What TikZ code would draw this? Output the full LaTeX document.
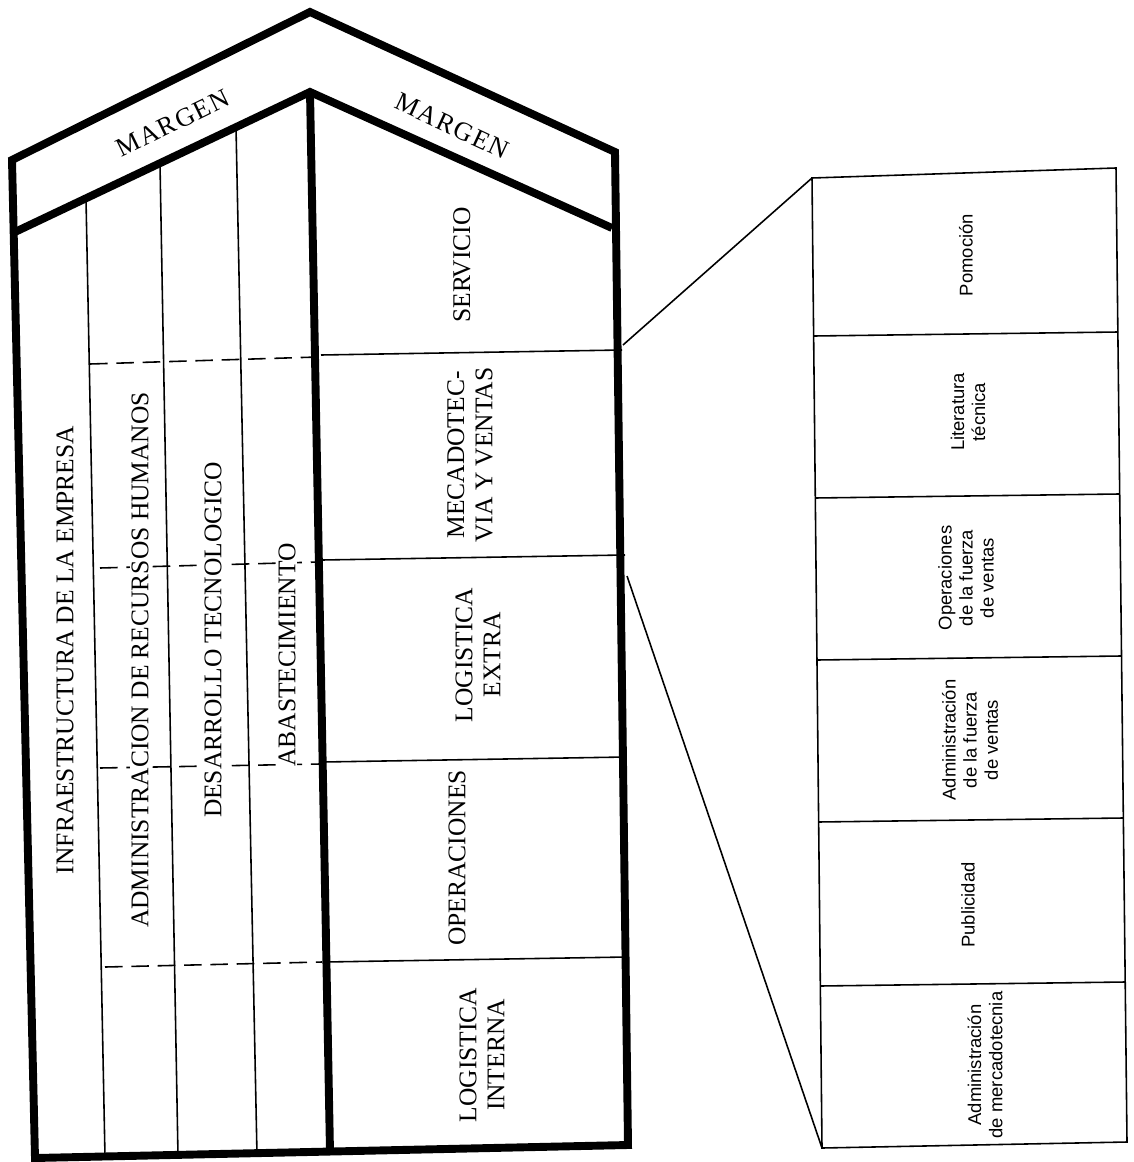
\documentclass[tikz,border=0pt]{standalone}
\usepackage{fontspec}
\setmainfont{Liberation Serif}
\newfontfamily\panelfont{Liberation Sans}
\newfontfamily\roofont[LetterSpace=6]{Liberation Serif}
\tikzset{
	wall/.style={line width=4.5pt, line join=miter},
	partline/.style={line width=.9pt},
	cutline/.style={line width=.9pt, dash pattern=on 10pt off 5pt},
	bigtxt/.style={rotate=90, align=center, font=\fontsize{14.5}{16}\selectfont},
	supporttxt/.style={bigtxt, fill=white, inner sep=1pt},
	roottxt/.style={font=\roofont\fontsize{15}{17}\selectfont},
	smalltxt/.style={rotate=90, align=center, font=\panelfont\fontsize{10.5}{12}\selectfont},
}
\begin{document}
\begin{tikzpicture}[x=.02cm,y=-.02cm]
		\useasboundingbox (0,0) rectangle (1133,1162);
		
		% casa exterior y techo
		\coordinate (oL) at (12,160); \coordinate (oT) at (310,12); \coordinate (oR) at (615,152);
		\coordinate (bL) at (35,1158); \coordinate (bR) at (628,1145);
		\coordinate (iL) at (15,232); \coordinate (iT) at (310,92); \coordinate (iR) at (612,228);
		\coordinate (cB) at (330,1152);
		\draw [wall] (bL) -- (oL) -- (oT) -- (oR) -- (bR) -- cycle;
		\draw [wall] (iL) -- (iT) -- (iR);
		\draw [wall] (iT) -- (cB);
		\node [roottxt, rotate=26] (margenA) at (173,123) {MARGEN};
		\node [roottxt, rotate=-25] (margenB) at (452,126) {MARGEN};
		
		% actividades de apoyo
		\draw [partline] (86,199) -- (105,1157);
		\draw [partline] (160,164) -- (178,1156);
		\draw [partline] (236,127) -- (257,1155);
		\draw [cutline] (90,364) -- (318,357);
		\draw [cutline] (100,568) -- (319,562);
		\draw [cutline] (100,768) -- (320,764);
		\draw [cutline] (105,967) -- (322,962);
		\node [supporttxt] (infra) at (65,650) {INFRAESTRUCTURA DE LA EMPRESA};
		\node [supporttxt] (rrhh) at (140,660) {ADMINISTRACION DE RECURSOS HUMANOS};
		\node [supporttxt] (tecno) at (213,640) {DESARROLLO TECNOLOGICO};
		\node [supporttxt] (abast) at (287,655) {ABASTECIMIENTO};
		
		% actividades primarias
		\draw [partline] (321,355) -- (622,350);
		\draw [partline] (322,560) -- (625,555);
		\draw [partline] (323,762) -- (626,757);
		\draw [partline] (325,962) -- (627,957);
		\node [bigtxt] (serv) at (462,265) {SERVICIO};
		\node [bigtxt] (merc) at (470,455) {MECADOTEC-\\VIA Y VENTAS};
		\node [bigtxt] (logext) at (478,655) {LOGISTICA\\EXTRA};
		\node [bigtxt] (oper) at (457,858) {OPERACIONES};
		\node [bigtxt] (logint) at (482,1055) {LOGISTICA\\INTERNA};
		
		% detalle de mercadotecnia
		\coordinate (pTL) at (812,178); \coordinate (pTR) at (1116,168);
		\coordinate (pBR) at (1127,1142); \coordinate (pBL) at (822,1148);
		\draw [partline] (pTL) -- (pTR) -- (pBR) -- (pBL) -- cycle;
		\draw [partline] (814,336) -- (1118,332);
		\draw [partline] (815,498) -- (1119,494);
		\draw [partline] (817,660) -- (1121,656);
		\draw [partline] (818,822) -- (1123,818);
		\draw [partline] (820,986) -- (1125,982);
		\node [smalltxt] (promo) at (966,255) {Pomoción};
		\node [smalltxt] (liter) at (968,412) {Literatura\\técnica};
		\node [smalltxt] (opfv) at (966,578) {Operaciones\\de la fuerza\\de ventas};
		\node [smalltxt] (admfv) at (970,740) {Administración\\de la fuerza\\de ventas};
		\node [smalltxt] (publi) at (968,905) {Publicidad};
		\node [smalltxt] (admmk) at (985,1065) {Administración\\de mercadotecnia};
		
		% lineas de ampliacion
		\coordinate (zoomA) at (623,345); \coordinate (zoomB) at (627,576);
		\draw [partline] (zoomA) -- (pTL);
		\draw [partline] (zoomB) -- (pBL);
\end{tikzpicture}
\end{document}
